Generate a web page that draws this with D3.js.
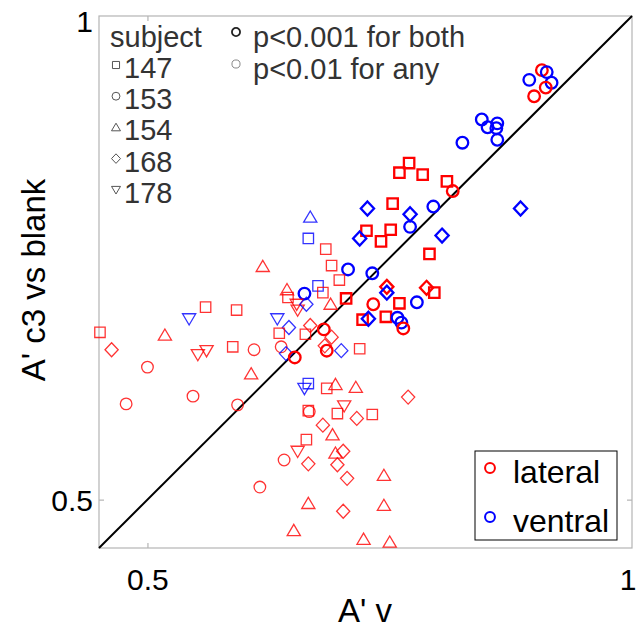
<!DOCTYPE html>
<html>
<head>
<meta charset="utf-8">
<script src="https://cdn.jsdelivr.net/npm/d3@7"></script>
<style>
  body { margin: 0; background: #fff; }
  svg { display: block; font-family: "Liberation Sans", Arial, sans-serif; }
</style>
</head>
<body>
<svg id="chart" width="637" height="633"></svg>
<script>
// ---- data ----
const avValues = [
  0.907,0.912,0.894,0.917,0.911,0.899,0.845,0.851,0.861,0.860,0.861,0.825,
  0.770,0.760,0.784,0.809,0.815,0.727,0.753,0.771,0.795,0.885,0.771,0.726,
  0.751,0.741,0.719,0.804,0.791,0.707,0.732,0.747,0.747,0.788,0.796,0.705,
  0.760,0.778,0.733,0.722,0.728,0.746,0.758,0.762,0.764,
  0.668,0.666,0.684,0.690,0.698,0.619,0.644,0.645,0.662,0.676,0.681,0.654,
  0.655,0.664,0.689,0.634,0.646,0.668,0.663,0.636,0.682,0.690,0.638,0.685,
  0.683,0.700,0.719,0.643,0.652,0.610,
  0.451,0.463,0.500,0.518,0.543,0.560,0.592,0.552,0.561,0.588,0.478,0.547,
  0.593,0.607,
  0.662,0.666,0.685,0.694,0.715,0.769,0.703,0.696,0.716,0.732,0.666,0.667,
  0.681,0.691,0.664,0.655,0.694,0.702,0.641,0.666,0.696,0.706,0.616,0.666,
  0.702,0.744,0.744,0.651,0.723,0.750
];
const ac3Values = [
  0.944,0.942,0.934,0.931,0.926,0.917,0.893,0.885,0.889,0.884,0.872,0.869,
  0.848,0.838,0.836,0.829,0.819,0.801,0.806,0.795,0.803,0.801,0.782,0.778,
  0.779,0.767,0.770,0.773,0.754,0.738,0.734,0.720,0.714,0.719,0.714,0.708,
  0.703,0.704,0.702,0.686,0.687,0.689,0.688,0.683,0.677,
  0.792,0.770,0.759,0.742,0.727,0.741,0.717,0.709,0.713,0.721,0.714,0.702,
  0.696,0.702,0.702,0.687,0.678,0.680,0.671,0.672,0.676,0.668,0.658,0.654,
  0.659,0.654,0.656,0.651,0.647,0.655,
  0.673,0.655,0.637,0.670,0.687,0.699,0.696,0.650,0.654,0.658,0.599,0.607,
  0.598,0.630,
  0.615,0.620,0.615,0.619,0.616,0.606,0.597,0.589,0.584,0.588,0.592,0.591,
  0.577,0.567,0.562,0.550,0.548,0.550,0.541,0.537,0.536,0.522,0.513,0.496,
  0.488,0.525,0.494,0.468,0.459,0.456
];
const regions = [
  "L","V","V","V","L","L","V","V","V","V","V","V",
  "L","L","L","L","L","V","L","V","V","V","V","L",
  "L","L","V","V","L","V","V","L","V","L","L","L",
  "L","V","L","L","V","L","V","V","L",
  "V","V","L","L","L","L","L","L","V","V","L","L",
  "L","V","L","V","V","L","L","L","L","L","L","L",
  "L","V","L","V","L","L",
  "L","L","L","L","V","L","L","L","L","L","L","L",
  "L","L",
  "V","V","L","L","L","L","L","L","L","L","L","L",
  "L","L","L","L","L","L","L","L","L","L","L","L",
  "L","L","L","L","L","L"
];
const subjectIds = [
  153,153,153,153,153,153,153,153,153,153,153,153,
  147,147,147,147,153,168,147,168,153,168,153,147,
  147,147,168,168,147,153,153,168,168,168,147,147,
  147,153,153,147,168,147,153,153,153,
  154,147,147,147,147,154,154,147,153,147,147,178,
  178,168,154,178,168,168,147,147,153,168,153,153,
  168,168,147,168,153,153,
  147,168,153,154,178,147,147,178,178,147,153,153,
  153,154,
  178,147,147,154,154,168,178,147,168,147,147,153,
  168,154,147,178,154,168,153,168,168,168,153,154,
  168,154,154,154,154,154
];
const sigLevels = [
  "both","both","both","both","both","both","both","both","both","both","both","both",
  "both","both","both","both","both","both","both","both","both","both","both","both",
  "both","both","both","both","both","both","both","both","both","both","both","both",
  "both","both","both","both","both","both","both","both","both",
  "any","any","any","any","any","any","any","any","both","any","any","any",
  "any","any","any","any","any","any","any","any","both","any","any","both",
  "any","any","any","any","both","any",
  "any","any","any","any","any","any","any","any","any","any","any","any",
  "any","any",
  "any","any","any","any","any","any","any","any","any","any","any","any",
  "any","any","any","any","any","any","any","any","any","any","any","any",
  "any","any","any","any","any","any"
];
const subjectList = [147, 153, 154, 168, 178];
const subjectShapes = ["square", "circle", "triangle", "diamond", "triangleDown"];
const xTicks = [0.5, 1];
const yTicks = [0.5, 1];
const regionNames = ["lateral", "ventral"];
const regionColors = ["#ff0000", "#0000ff"];
const sigNames = ["p<0.001 for both", "p<0.01 for any"];

// ---- layout ----
const svg = d3.select("#chart");
const x = d3.scaleLinear().domain([0.45, 1]).range([99, 632]);
const y = d3.scaleLinear().domain([0.45, 1]).range([548, 16]);

function shapePath(shape, s) {
  s = s || 1;
  const p = d3.path();
  if (shape === "square") {
    const h = 5.2 * s; p.rect(-h, -h, 2 * h, 2 * h);
  } else if (shape === "circle") {
    const r = 5.8 * s; p.moveTo(r, 0); p.arc(0, 0, r, 0, 2 * Math.PI);
  } else if (shape === "triangle") {
    p.moveTo(0, -6.2 * s); p.lineTo(6.6 * s, 5 * s); p.lineTo(-6.6 * s, 5 * s); p.closePath();
  } else if (shape === "triangleDown") {
    p.moveTo(0, 6.2 * s); p.lineTo(6.6 * s, -5 * s); p.lineTo(-6.6 * s, -5 * s); p.closePath();
  } else if (shape === "diamond") {
    p.moveTo(0, -7 * s); p.lineTo(6.6 * s, 0); p.lineTo(0, 7 * s); p.lineTo(-6.6 * s, 0); p.closePath();
  }
  return p.toString();
}

// axes box
const boxColor = "#b4b4b4";
svg.append("rect")
  .attr("x", x(0.45)).attr("y", y(1))
  .attr("width", x(1) - x(0.45)).attr("height", y(0.45) - y(1))
  .attr("fill", "none").attr("stroke", boxColor).attr("stroke-width", 1.2);

// ticks (inward, on both sides)
const xAxisB = d3.axisBottom(x).tickValues(xTicks).tickSize(-5).tickFormat(d3.format("~g"));
const xAxisT = d3.axisTop(x).tickValues(xTicks).tickSize(-5).tickFormat("");
const yAxisL = d3.axisLeft(y).tickValues(yTicks).tickSize(-5).tickFormat(d3.format("~g"));
const yAxisR = d3.axisRight(y).tickValues(yTicks).tickSize(-5).tickFormat("");

function styleAxis(g) {
  g.select(".domain").remove();
  g.selectAll(".tick line").attr("stroke", boxColor).attr("stroke-width", 1.2);
  g.selectAll(".tick text").attr("fill", "#000").attr("font-size", 30)
    .attr("font-family", "'Liberation Sans', Arial, sans-serif");
}
const gxb = svg.append("g").attr("transform", `translate(0,${y(0.45)})`).call(xAxisB).call(styleAxis);
gxb.selectAll(".tick text").attr("dy", null).attr("y", 42);
// the "1" at the right edge sits flush with the figure border
gxb.selectAll(".tick").filter(d => d === 1).select("text").attr("text-anchor", "end").attr("x", 4);
svg.append("g").attr("transform", `translate(0,${y(1)})`).call(xAxisT).call(styleAxis);
const gyl = svg.append("g").attr("transform", `translate(${x(0.45)},0)`).call(yAxisL).call(styleAxis);
gyl.selectAll(".tick text").attr("x", -6).attr("dy", "0.36em");
gyl.selectAll(".tick").filter(d => d === 1).select("text").attr("dy", "0.5em");
svg.append("g").attr("transform", `translate(${x(1)},0)`).call(yAxisR).call(styleAxis);
// no tick marks at the extreme corners
svg.selectAll(".tick").filter(d => d === 1).select("line").remove();

// diagonal
svg.append("line")
  .attr("x1", x(0.45)).attr("y1", y(0.45)).attr("x2", x(1)).attr("y2", y(1))
  .attr("stroke", "#000").attr("stroke-width", 2);

// points
const pts = avValues.map((v, i) => ({
  xv: v, yv: ac3Values[i], region: regions[i], subj: subjectIds[i], sig: sigLevels[i]
}));
svg.append("g").selectAll("path").data(pts).join("path")
  .attr("d", d => shapePath(subjectShapes[subjectList.indexOf(d.subj)]))
  .attr("transform", d => `translate(${x(d.xv)},${y(d.yv)})`)
  .attr("fill", "none")
  .attr("stroke", d => d.region === "L" ? regionColors[0] : regionColors[1])
  .attr("stroke-width", d => d.sig === "both" ? 2.3 : 1.3)
  .attr("stroke-opacity", d => d.sig === "both" ? 1 : 0.8);

// axis titles
svg.append("text").attr("x", 365).attr("y", 622).attr("text-anchor", "middle")
  .attr("font-size", 33).attr("fill", "#000").text("A' v");
svg.append("text").attr("transform", "translate(45,280) rotate(-90)").attr("text-anchor", "middle")
  .attr("font-size", 33).attr("fill", "#000").text("A' c3 vs blank");

// subject legend
const legTxt = "#333";
svg.append("text").attr("x", 110).attr("y", 47).attr("font-size", 29).attr("fill", legTxt).text("subject");
subjectList.forEach((s, i) => {
  const cy = 65 + i * 31.2;
  svg.append("path").attr("d", shapePath(subjectShapes[i], 0.68))
    .attr("transform", `translate(116,${cy})`)
    .attr("fill", "none").attr("stroke", "#555").attr("stroke-width", 1);
  svg.append("text").attr("x", 124).attr("y", cy + 13).attr("font-size", 29).attr("fill", legTxt).text(s);
});
// significance legend
sigNames.forEach((n, i) => {
  const cy = 32 + i * 32;
  svg.append("path").attr("d", shapePath("circle", 0.7))
    .attr("transform", `translate(236,${cy})`)
    .attr("fill", "none").attr("stroke", i === 0 ? "#222" : "#888").attr("stroke-width", i === 0 ? 1.8 : 1);
  svg.append("text").attr("x", 253).attr("y", cy + 15).attr("font-size", 29).attr("fill", legTxt).text(n);
});

// region legend box
svg.append("rect").attr("x", 475).attr("y", 451).attr("width", 142).attr("height", 89)
  .attr("fill", "#fff").attr("stroke", "#000").attr("stroke-width", 1);
regionNames.forEach((n, i) => {
  const cy = 468 + i * 49;
  svg.append("path").attr("d", shapePath("circle", 0.85))
    .attr("transform", `translate(490,${cy})`)
    .attr("fill", "none").attr("stroke", regionColors[i]).attr("stroke-width", 2);
  svg.append("text").attr("x", 513).attr("y", cy + 15).attr("font-size", 32).attr("fill", "#000").text(n);
});
</script>
</body>
</html>
